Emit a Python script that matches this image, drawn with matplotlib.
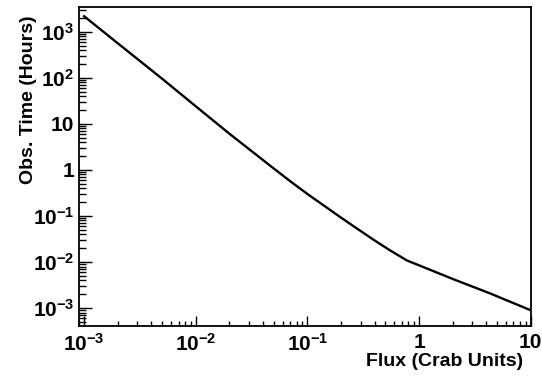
import matplotlib
matplotlib.use("Agg")
import matplotlib.pyplot as plt
from matplotlib.ticker import FixedLocator, LogLocator, NullFormatter, FixedFormatter

plt.rcParams['font.family'] = ['Liberation Sans', 'DejaVu Sans']
plt.rcParams['font.weight'] = 'bold'
plt.rcParams['mathtext.fontset'] = 'custom'
plt.rcParams['mathtext.rm'] = 'Liberation Sans:bold'
plt.rcParams['mathtext.it'] = 'Liberation Sans:bold'
plt.rcParams['mathtext.bf'] = 'Liberation Sans:bold'
plt.rcParams['mathtext.default'] = 'rm'

# Data
flux = [0.001, 0.002, 0.005, 0.01, 0.02, 0.05, 0.07, 0.1, 0.14, 0.2, 0.28,
        0.4, 0.55, 0.78, 1.0, 1.5, 2.0, 4.3, 10.0]
obs_time = [2160, 560, 95, 24, 6.1, 1.07, 0.57, 0.30, 0.169, 0.092, 0.0527,
            0.0294, 0.0179, 0.0108, 0.0085, 0.0057, 0.0043, 0.0021, 0.0009]

xtick_values = [1e-3, 1e-2, 1e-1, 1, 10]
xtick_labels = [r'$10^{-3}$', r'$10^{-2}$', r'$10^{-1}$', '1', '10']
ytick_values = [1e-3, 1e-2, 1e-1, 1, 10, 100, 1000]
ytick_labels = [r'$10^{-3}$', r'$10^{-2}$', r'$10^{-1}$', '1', '10', r'$10^{2}$', r'$10^{3}$']

x_title = 'Flux (Crab Units)'
y_title = 'Obs. Time (Hours)'

W, H = 542, 379
fig = plt.figure(figsize=(W / 100, H / 100), dpi=100)
L, R, T, B = 78.5, 531, 7.3, 326
ax = fig.add_axes([L / W, 1 - B / H, (R - L) / W, (B - T) / H])

ax.plot(flux, obs_time, color='black', lw=1.7, solid_joinstyle='round')

ax.set_xscale('log')
ax.set_yscale('log')
ax.set_xlim(8.9e-4, 10.05)
ax.set_ylim(4.1e-4, 3380)

ax.xaxis.set_major_locator(FixedLocator(xtick_values))
ax.xaxis.set_major_formatter(FixedFormatter(xtick_labels))
ax.yaxis.set_major_locator(FixedLocator(ytick_values))
ax.yaxis.set_major_formatter(FixedFormatter(ytick_labels))
ax.xaxis.set_minor_locator(LogLocator(base=10, subs=range(2, 10), numticks=20))
ax.yaxis.set_minor_locator(LogLocator(base=10, subs=range(2, 10), numticks=20))
ax.xaxis.set_minor_formatter(NullFormatter())
ax.yaxis.set_minor_formatter(NullFormatter())

for s in ax.spines.values():
    s.set_linewidth(1.3)

ax.tick_params(axis='both', which='both', direction='in', top=False, right=False, width=1.0)
ax.tick_params(axis='x', which='major', length=7.2, pad=5, labelsize=15)
ax.tick_params(axis='x', which='minor', length=3.6)
ax.tick_params(axis='y', which='major', length=9.4, pad=3, labelsize=15)
ax.tick_params(axis='y', which='minor', length=5.0)

ax.set_xlabel(x_title, fontsize=14, fontweight='bold', loc='right')
ax.set_ylabel(y_title, fontsize=14, fontweight='bold', loc='top')
ax.xaxis.set_label_coords((523 - L) / (R - L), (B - 353) / (B - T))
ax.yaxis.set_label_coords((37 - L) / (R - L), (B - 15) / (B - T))

fig.savefig('out.png', dpi=100)
